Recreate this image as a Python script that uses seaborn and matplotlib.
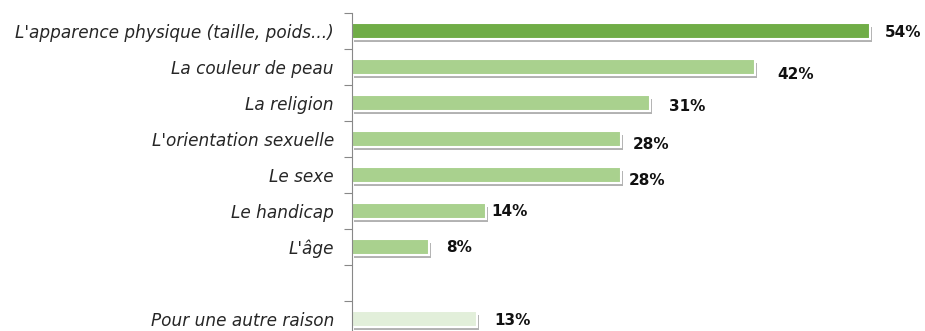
import matplotlib
matplotlib.use("Agg")
import matplotlib.pyplot as plt
import matplotlib.patheffects as pe
import seaborn as sns
import pandas as pd
import numpy as np

categories = [
    "L'apparence physique (taille, poids...)",
    "La couleur de peau",
    "La religion",
    "L'orientation sexuelle",
    "Le sexe",
    "Le handicap",
    "L'âge",
    "Pour une autre raison",
]
values = [54, 42, 31, 28, 28, 14, 8, 13]
colors = ["#70AD47", "#A9D18E", "#A9D18E", "#A9D18E", "#A9D18E",
          "#A9D18E", "#A9D18E", "#E2EFDA"]
# empty slot before the last row
order = categories[:7] + [" "] + categories[7:]
label_dx = [1.5, 2.3, 2.0, 1.2, 0.8, 0.5, 1.8, 1.8]
label_dy = [0.05, 0.2, 0.1, 0.15, 0.15, 0.0, 0.0, 0.05]

df = pd.DataFrame({"cat": categories, "val": values})

sns.set_theme(style="white")
plt.rcParams["font.family"] = ["DejaVu Sans"]

fig = plt.figure(figsize=(9.25, 3.31), dpi=100)
ax = fig.add_axes([352 / 925, -6 / 331, 573 / 925, 324 / 331])

sns.barplot(data=df, y="cat", x="val", order=order, hue="cat",
            palette=dict(zip(categories, colors)), legend=False, saturation=1,
            width=0.44, edgecolor="white", linewidth=1.5, ax=ax)

for p in ax.patches:
    p.set_path_effects([
        pe.SimplePatchShadow(offset=(1.5, -2.5), shadow_rgbFace="#555555", alpha=0.45),
        pe.Normal(),
    ])

pos = {c: i for i, c in enumerate(order)}
for c, v, dx, dy in zip(categories, values, label_dx, label_dy):
    ax.text(v + dx, pos[c] + dy, f"{v}%", va="center", ha="left",
            fontsize=11, fontweight="bold", color="#111111")

ax.set_xlim(0, 573 / 9.6)
ax.set_ylim(len(order) - 0.5, -0.5)
ax.set_xlabel("")
ax.set_ylabel("")
ax.set_xticks([])
ax.set_yticks(range(len(order)))
ax.set_yticklabels([("" if c.strip() == "" else c) for c in order],
                   fontsize=12.2, style="italic", family="DejaVu Sans", color="#262626")
ax.tick_params(axis="y", which="major", left=False, length=0, pad=13)
ax.set_yticks(np.arange(-0.5, len(order) + 0.5, 1), minor=True)
ax.tick_params(axis="y", which="minor", left=True, length=6, width=0.8,
               color="#888888", direction="out")

for s in ["top", "right", "bottom"]:
    ax.spines[s].set_visible(False)
ax.spines["left"].set_color("#888888")
ax.spines["left"].set_linewidth(0.8)

fig.savefig("out.png", dpi=100)
